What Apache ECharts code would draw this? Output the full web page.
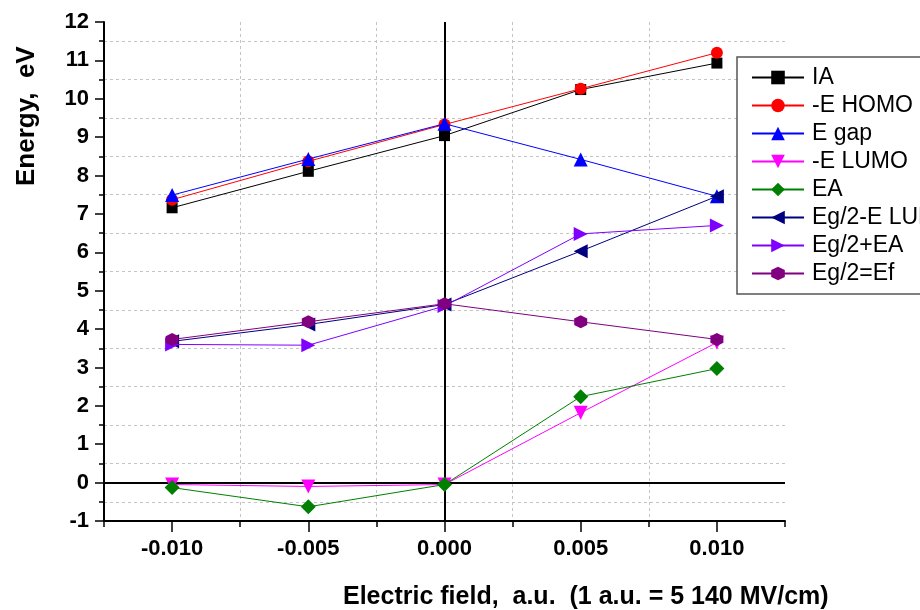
<!DOCTYPE html>
<html>
<head>
<meta charset="utf-8">
<script src="https://cdn.jsdelivr.net/npm/echarts@6/dist/echarts.min.js"></script>
<style>
  html, body { margin: 0; padding: 0; background: #fff; }
  #chart { width: 920px; height: 610px; }
</style>
</head>
<body>
<div id="chart"></div>
<script>
// ---- data ----
const fieldValues = [-0.010, -0.005, 0.000, 0.005, 0.010];
const seriesNames = ['IA', '-E HOMO', 'E gap', '-E LUMO', 'EA', 'Eg/2-E LUMO', 'Eg/2+EA', 'Eg/2=Ef'];
const IA        = [7.16, 8.11, 9.04, 10.24, 10.93];
const E_HOMO    = [7.37, 8.37, 9.33, 10.26, 11.20];
const E_gap     = [7.49, 8.43, 9.35, 8.42, 7.46];
const E_LUMO    = [-0.05, -0.10, -0.05, 1.82, 3.65];
const EA        = [-0.13, -0.63, -0.05, 2.24, 2.97];
const Eg2_ELUMO = [3.68, 4.12, 4.64, 6.03, 7.46];
const Eg2_EA    = [3.60, 3.58, 4.60, 6.48, 6.70];
const Eg2_Ef    = [3.73, 4.19, 4.66, 4.19, 3.73];
const majorXTicks = [-0.010, -0.005, 0.000, 0.005, 0.010];

const seriesValues = [IA, E_HOMO, E_gap, E_LUMO, EA, Eg2_ELUMO, Eg2_EA, Eg2_Ef];

// ---- styles ----
const colors = ['#000000', '#ff0000', '#0000ff', '#ff00ff', '#008000', '#000080', '#8000ff', '#800080'];
const hexagon = 'path://M0,-1 L0.866,-0.5 L0.866,0.5 L0,1 L-0.866,0.5 L-0.866,-0.5 Z';
const symbols = ['rect', 'circle', 'triangle', 'triangle', 'diamond', 'triangle', 'triangle', hexagon];
const symbolRotates = [0, 0, 0, 180, 0, 90, -90, 0];
const symbolSizes = [11, 12, 14, 14, 15, 14, 14, 13];

const FONT = '"Liberation Sans", Arial, sans-serif';

const series = seriesNames.map((name, i) => {
  const s = {
    name: name,
    type: 'line',
    data: fieldValues.map((x, j) => [x, seriesValues[i][j]]),
    symbol: symbols[i],
    symbolRotate: symbolRotates[i],
    symbolSize: symbolSizes[i],
    showAllSymbol: true,
    animation: false,
    lineStyle: { color: colors[i], width: 1 },
    itemStyle: { color: colors[i] },
    z: 3 + i
  };
  if (i === 0) {
    s.markLine = {
      silent: true,
      symbol: ['none', 'none'],
      label: { show: false },
      lineStyle: { color: '#000', width: 2, type: 'solid' },
      z: 1,
      data: [{ xAxis: 0 }, { yAxis: 0 }]
    };
  }
  return s;
});

const chart = echarts.init(document.getElementById('chart'), null, { renderer: 'canvas' });
chart.setOption({
  animation: false,
  backgroundColor: '#ffffff',
  grid: { left: 104, right: 135, top: 22, bottom: 89, containLabel: false },
  legend: {
    orient: 'vertical',
    left: 737,
    top: 57,
    padding: [9, 40, 9, 14],
    itemWidth: 52,
    itemHeight: 17,
    itemGap: 5,
    borderColor: '#555',
    borderWidth: 1.5,
    backgroundColor: '#fff',
    textStyle: { fontFamily: FONT, fontSize: 23, color: '#000', padding: [0, 0, 0, 3] },
    data: seriesNames
  },
  xAxis: [
    {
      type: 'value',
      min: -0.0125,
      max: 0.0125,
      interval: 0.005,
      axisLine: { show: true, onZero: false, lineStyle: { color: '#000', width: 2 } },
      axisTick: { show: true, length: 6, lineStyle: { color: '#000', width: 1.5 } },
      axisLabel: { show: false },
      splitLine: { show: true, showMinLine: false, showMaxLine: false, lineStyle: { color: '#c4c4c4', type: [3, 3], width: 1 } }
    },
    {
      type: 'value',
      position: 'bottom',
      min: -0.0125,
      max: 0.0125,
      axisLine: { show: false, onZero: false },
      axisTick: { show: true, customValues: majorXTicks, length: 11, lineStyle: { color: '#000', width: 1.5 } },
      axisLabel: {
        show: true,
        customValues: majorXTicks,
        margin: 17,
        fontFamily: FONT, fontSize: 22, fontWeight: 'bold', color: '#000',
        formatter: v => (Math.abs(v) < 1e-9 ? 0 : v).toFixed(3)
      },
      splitLine: { show: false }
    }
  ],
  yAxis: {
    type: 'value',
    min: -1,
    max: 12,
    interval: 1,
    axisLine: { show: true, onZero: false, lineStyle: { color: '#000', width: 2 } },
    axisTick: { show: true, length: 9, lineStyle: { color: '#000', width: 1.5 } },
    minorTick: { show: true, splitNumber: 2, length: 5, lineStyle: { color: '#000', width: 1.5 } },
    minorSplitLine: { show: true, lineStyle: { color: '#c4c4c4', type: [3, 3], width: 1 } },
    splitLine: { show: false },
    axisLabel: { margin: 15, fontFamily: FONT, fontSize: 22, fontWeight: 'bold', color: '#000' }
  },
  graphic: [
    {
      type: 'text',
      left: 343,
      top: 585,
      style: { text: 'Electric field,  a.u.  (1 a.u. = 5 140 MV/cm)', font: 'bold 25px ' + FONT, fill: '#000' }
    },
    {
      type: 'text',
      x: 14,
      y: 186,
      rotation: Math.PI / 2,
      style: { text: 'Energy,  eV', font: 'bold 26px ' + FONT, fill: '#000' }
    }
  ],
  series: series
});
</script>
</body>
</html>
